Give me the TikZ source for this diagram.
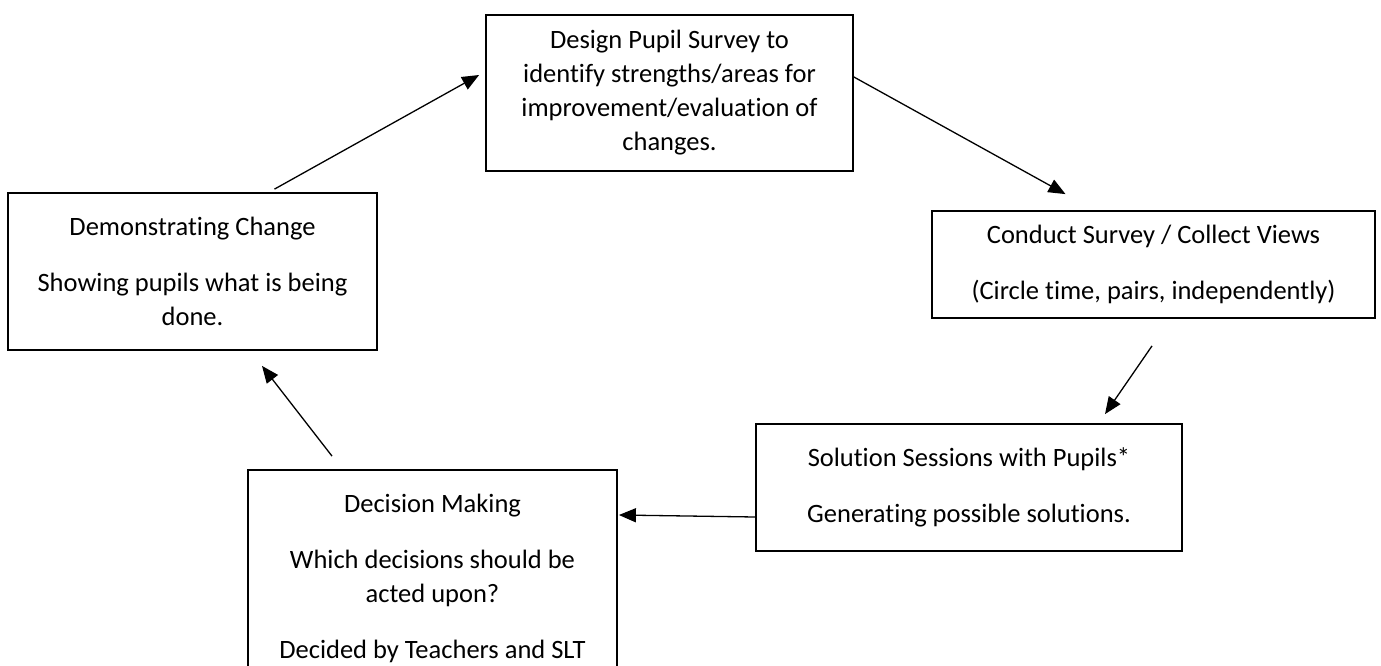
\documentclass[tikz,border=0pt]{standalone}
\usepackage{fontspec}
\setmainfont{Carlito}[Ligatures={NoCommon}]
\usetikzlibrary{arrows.meta}

\begin{document}
\begin{tikzpicture}[x=1pt, y=-1pt]
	\tikzset{stage/.style={draw=black, fill=white, line width=1.8pt, align=center, inner sep=0pt, font=\fontsize{26.5}{34}\selectfont}}
	\tikzset{flow/.style={-{Triangle[length=17pt, width=14pt]}, line width=1.3pt}}
		\useasboundingbox (0,0) rectangle (1381,666);
		\node[stage, minimum width=367pt, minimum height=156pt] (design) at (669.5,93) {Design Pupil Survey to\\identify strengths/areas for\\improvement/evaluation of\\changes.};
		\node[stage, minimum width=443pt, minimum height=107pt] (conduct) at (1153.5,264.5) {Conduct Survey / Collect Views\\[22pt](Circle time, pairs, independently)};
		\node[stage, minimum width=426pt, minimum height=127pt] (solution) at (969,487.5) {Solution Sessions with Pupils*\\[22pt]Generating possible solutions.};
		\node[stage, minimum width=369pt, minimum height=216pt] (decision) at (432.5,578) {Decision Making\\[22pt]Which decisions should be\\acted upon?\\[22pt]Decided by Teachers and SLT};
		\node[stage, minimum width=369pt, minimum height=157pt] (demo) at (192.5,271.5) {Demonstrating Change\\[22pt]Showing pupils what is being\\done.};
		% cycle
		\draw[flow] ([yshift=16pt]design.east) -- ([xshift=-88pt,yshift=16pt]conduct.north);
		\draw[flow] ([xshift=-1.5pt,yshift=-27pt]conduct.south) -- ([xshift=136pt,yshift=9pt]solution.north);
		\draw[flow] ([yshift=-29.5pt]solution.west) -- ([xshift=1pt,yshift=63pt]decision.east);
		\draw[flow] ([xshift=-100.5pt,yshift=13pt]decision.north) -- ([xshift=69.5pt,yshift=-15pt]demo.south);
		\draw[flow] ([xshift=82pt,yshift=3pt]demo.north) -- ([xshift=-6pt,yshift=18pt]design.west);
	\end{tikzpicture}
\end{document}
